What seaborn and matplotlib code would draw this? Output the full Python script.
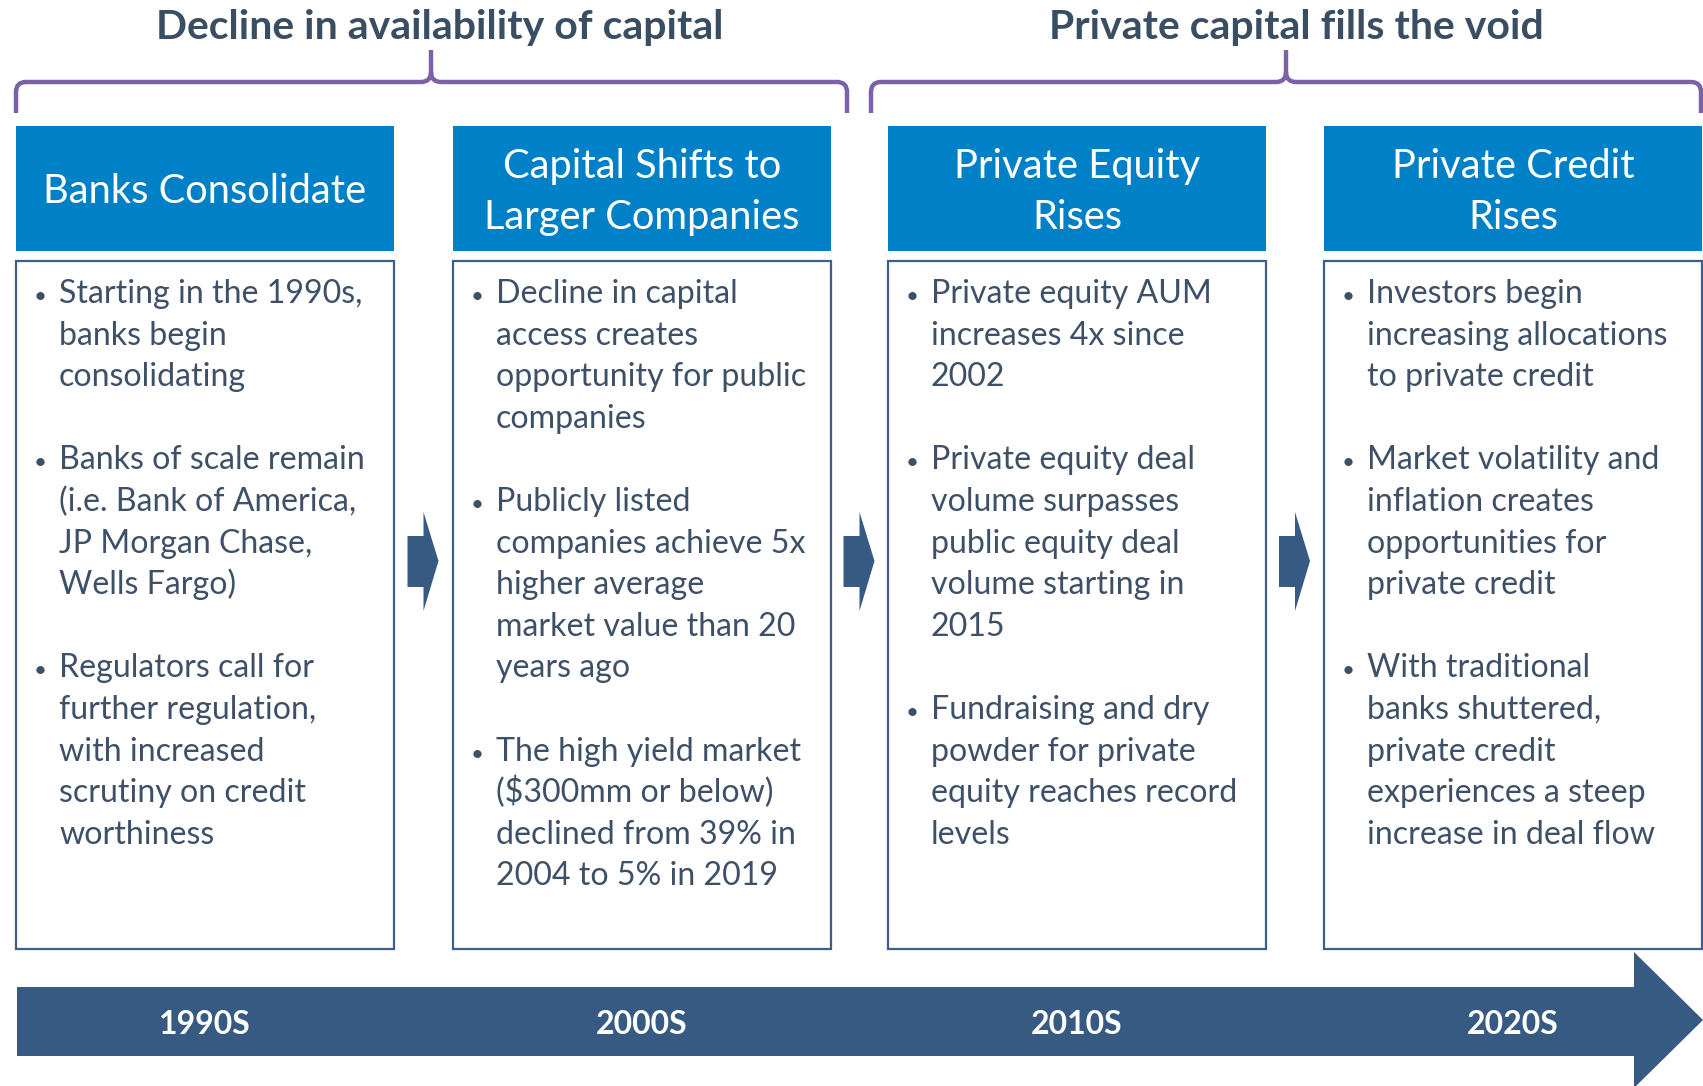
import matplotlib.pyplot as plt
import seaborn as sns
from matplotlib.patches import Rectangle, Polygon, PathPatch
from matplotlib.path import Path

# Content of the timeline
section_titles = ["Decline in availability of capital", "Private capital fills the void"]
headers = [
    ["Banks Consolidate"],
    ["Capital Shifts to", "Larger Companies"],
    ["Private Equity", "Rises"],
    ["Private Credit", "Rises"],
]
# '' marks the gap between bullet points
bodies = [
    ["Starting in the 1990s,", "banks begin", "consolidating", "",
     "Banks of scale remain", "(i.e. Bank of America,", "JP Morgan Chase,", "Wells Fargo)", "",
     "Regulators call for", "further regulation,", "with increased", "scrutiny on credit", "worthiness"],
    ["Decline in capital", "access creates", "opportunity for public", "companies", "",
     "Publicly listed", "companies achieve 5x", "higher average", "market value than 20", "years ago", "",
     "The high yield market", "($300mm or below)", "declined from 39% in", "2004 to 5% in 2019"],
    ["Private equity AUM", "increases 4x since", "2002", "",
     "Private equity deal", "volume surpasses", "public equity deal", "volume starting in", "2015", "",
     "Fundraising and dry", "powder for private", "equity reaches record", "levels"],
    ["Investors begin", "increasing allocations", "to private credit", "",
     "Market volatility and", "inflation creates", "opportunities for", "private credit", "",
     "With traditional", "banks shuttered,", "private credit", "experiences a steep", "increase in deal flow"],
]
decades = ["1990S", "2000S", "2010S", "2020S"]

sns.set_theme(style="white")
plt.rcParams["font.family"] = ["Lato", "DejaVu Sans"]

HEADER_BLUE = "#0080C6"
TITLE_COL = "#3A4E63"
TEXT_COL = "#3D5067"
BORDER = "#3E5F89"
ARROW = "#375A82"
PURPLE = "#7B62A8"

W, H = 1703, 1086
fig = plt.figure(figsize=(W / 100, H / 100), dpi=100)
ax = fig.add_axes([0, 0, 1, 1])
ax.set_xlim(0, W)
ax.set_ylim(H, 0)
ax.axis("off")

box_left = [16, 453, 888, 1324]
box_w = 378


def brace(xa, xb, mid, ytop=50, yh=82, ybot=113, r=10):
    verts = [(xa, ybot), (xa, yh + r), (xa, yh), (xa + r, yh), (mid - r, yh),
             (mid, yh), (mid, yh - r), (mid, ytop),
             (mid, yh - r), (mid, yh), (mid + r, yh), (xb - r, yh),
             (xb, yh), (xb, yh + r), (xb, ybot)]
    codes = [Path.MOVETO, Path.LINETO, Path.CURVE3, Path.CURVE3, Path.LINETO,
             Path.CURVE3, Path.CURVE3, Path.LINETO,
             Path.MOVETO, Path.CURVE3, Path.CURVE3, Path.LINETO,
             Path.CURVE3, Path.CURVE3, Path.LINETO]
    ax.add_patch(PathPatch(Path(verts, codes), fill=False, ec=PURPLE, lw=3.2,
                           capstyle="butt", joinstyle="round"))


# section titles and braces
brace(16, 847, 431)
brace(871, 1701, 1286)
ax.text(440, 39, section_titles[0], ha="center", va="baseline", fontsize=29.5,
        fontweight="bold", color=TITLE_COL)
ax.text(1296, 39, section_titles[1], ha="center", va="baseline", fontsize=29.5,
        fontweight="bold", color=TITLE_COL)

for i, x0 in enumerate(box_left):
    cx = x0 + box_w / 2
    # header
    ax.add_patch(Rectangle((x0, 126), box_w, 125, fc=HEADER_BLUE, ec="none"))
    lines = headers[i]
    if len(lines) == 1:
        ax.text(cx, 203, lines[0], ha="center", va="baseline", fontsize=28.7, color="white")
    else:
        for j, ln in enumerate(lines):
            ax.text(cx, 178 + 51 * j, ln, ha="center", va="baseline", fontsize=28.7, color="white")
    # body
    ax.add_patch(Rectangle((x0, 261), box_w, 688, fc="white", ec=BORDER, lw=1.6))
    new_par = True
    for j, ln in enumerate(bodies[i]):
        y = 303 + 41.6 * j
        if ln == "":
            new_par = True
            continue
        if new_par:
            ax.text(x0 + 24, y, "\u2022", ha="center", va="baseline", fontsize=16, color=TEXT_COL)
            new_par = False
        ax.text(x0 + 43, y, ln, ha="left", va="baseline", fontsize=23.1, color=TEXT_COL)

# small arrows between boxes
for k in range(3):
    gx = (box_left[k] + box_w + box_left[k + 1]) / 2
    x0 = gx - 16
    pts = [(x0, 536), (x0 + 16, 536), (x0 + 16, 512), (x0 + 31, 561),
           (x0 + 16, 611), (x0 + 16, 587), (x0, 587)]
    ax.add_patch(Polygon(pts, closed=True, fc=ARROW, ec="none"))

# timeline arrow
ax.add_patch(Polygon([(17, 987), (1634, 987), (1634, 952), (1703, 1020),
                      (1634, 1088), (1634, 1056), (17, 1056)], closed=True, fc=ARROW, ec="none"))
for i, x0 in enumerate(box_left):
    ax.text(x0 + box_w / 2, 1034, decades[i], ha="center", va="baseline", fontsize=23,
            fontweight="bold", color="white")

fig.savefig("out.png", dpi=100)
